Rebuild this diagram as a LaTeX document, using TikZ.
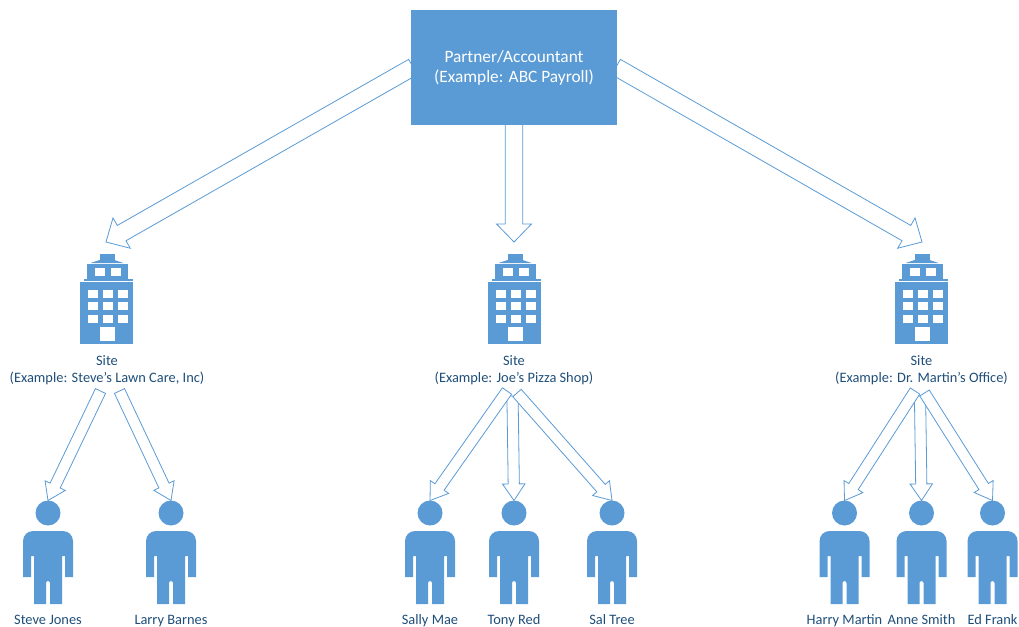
\documentclass[tikz,border=0pt]{standalone}
\usepackage{fontspec}
\setmainfont{Carlito}
\usepackage{xcolor}
\usetikzlibrary{calc}
\definecolor{officeblue}{HTML}{5B9BD5}
\definecolor{labelblue}{HTML}{1F4E79}
\tikzset{
  partnerbox/.style={fill=officeblue,minimum width=154.5pt,minimum height=86.25pt,inner sep=0pt,text=white,align=center,font=\fontsize{13}{15}\selectfont},
  sitelabel/.style={text=labelblue,align=center,inner sep=0pt,font=\fontsize{10.8}{12.75}\selectfont},
  personlabel/.style={text=labelblue,inner sep=0pt,anchor=base,font=\fontsize{10.8}{12.75}\selectfont},
  hollow/.style={draw=officeblue,fill=white,line width=0.6pt,line join=miter},
  windowpane/.style={fill=white},
  person/.pic={
    \fill[officeblue] (0,0) circle (12.5);
    \fill[officeblue] (-25,64) -- (-25,28) arc[start angle=180,end angle=270,radius=10] -- (15,18) arc[start angle=270,end angle=360,radius=10] -- (25,64) -- (17,64) -- (17,43) -- (14,43) -- (14,91) -- (2,91) -- (2,70) arc[start angle=0,end angle=-180,radius=2] -- (-2,91) -- (-14,91) -- (-14,43) -- (-17,43) -- (-17,64) -- cycle;
    \coordinate (-top) at (0,-12.5);
  },
  building/.pic={
    \fill[officeblue] (-53/2,-1) rectangle (53/2,61);
    \fill[officeblue] (-23,-4) rectangle (26,-2);
    \fill[officeblue] (-20,-19) rectangle (21,-4);
    \fill[officeblue] (-16,-20) -- (17,-20) -- (8,-23) -- (-7,-23) -- cycle;
    \fill[officeblue] (-7,-29) rectangle (8,-23);
    \foreach \px in {-12,4} \fill[windowpane] (\px,-15) rectangle ++(10,8);
    \foreach \px in {-19,-4,11} \foreach \py in {7,19,32} \fill[windowpane] (\px,\py) rectangle ++(10,8);
    \fill[windowpane] (-7,44) rectangle (8,58);
  }
}
\newcommand{\hollowarrow}[5]{% from, to, half shaft, half head, head length
  \coordinate (neck) at ($(#2)!#5!(#1)$);
  \draw[hollow] ($(#1)!#3!90:(#2)$) -- ($(neck)!#3!-90:(#1)$) -- ($(neck)!#4!-90:(#1)$) -- (#2) -- ($(neck)!#4!90:(#1)$) -- ($(neck)!#3!90:(#1)$) -- ($(#1)!#3!-90:(#2)$) -- cycle;
}
\newcommand{\bigarrow}[2]{\hollowarrow{#1}{#2}{6.6pt}{13.1pt}{13.5pt}}
\newcommand{\smallarrow}[2]{\hollowarrow{#1}{#2}{4.2pt}{8.4pt}{12.4pt}}
\begin{document}
\begin{tikzpicture}[x=0.75pt,y=-0.75pt]
\useasboundingbox (0,0) rectangle (1019,627);

% sites
\pic (buildA) at (106.5,283) {building};
\pic (buildB) at (514.5,283) {building};
\pic (buildC) at (921.5,283) {building};
\node[sitelabel] (siteA) at (107,370) {Site\\(Example: Steve’s Lawn Care, Inc)};
\node[sitelabel] (siteB) at (514,370) {Site\\(Example: Joe’s Pizza Shop)};
\node[sitelabel] (siteC) at (921.5,370) {Site\\(Example: Dr. Martin’s Office)};

% people
\foreach \pname/\px/\ptext in {steve/48/Steve Jones,larry/171/Larry Barnes,sally/430/Sally Mae,tony/514/Tony Red,sal/612/Sal Tree,harry/844.5/Harry Martin,anne/921.5/Anne Smith,ed/992.5/Ed Frank}{
  \pic (\pname) at (\px,513) {person};
  \node[personlabel] (\pname label) at (\px,624) {\ptext};
}

% arrow starts and tips
\coordinate (partnerL) at (413,67);
\coordinate (partnerB) at (514,120);
\coordinate (partnerR) at (616,67);
\coordinate (tipA) at (106,242);
\coordinate (tipB) at (514,242);
\coordinate (tipC) at (922,242);
\coordinate (outA1) at (100.5,391);
\coordinate (outA2) at (119.5,391);
\coordinate (outB1) at (507,391);
\coordinate (outB2) at (512.5,396);
\coordinate (outB3) at (517,393);
\coordinate (outC1) at (915,391);
\coordinate (outC2) at (920,396);
\coordinate (outC3) at (924.5,393);

\bigarrow{partnerL}{tipA}
\bigarrow{partnerB}{tipB}
\bigarrow{partnerR}{tipC}

\smallarrow{outA1}{steve-top}
\smallarrow{outA2}{larry-top}
\smallarrow{outB2}{tony-top}
\smallarrow{outB1}{sally-top}
\smallarrow{outB3}{sal-top}
\smallarrow{outC2}{anne-top}
\smallarrow{outC1}{harry-top}
\smallarrow{outC3}{ed-top}

\node[partnerbox] (partner) at (514,67.5) {Partner/Accountant\\(Example: ABC Payroll)};
\end{tikzpicture}
\end{document}
